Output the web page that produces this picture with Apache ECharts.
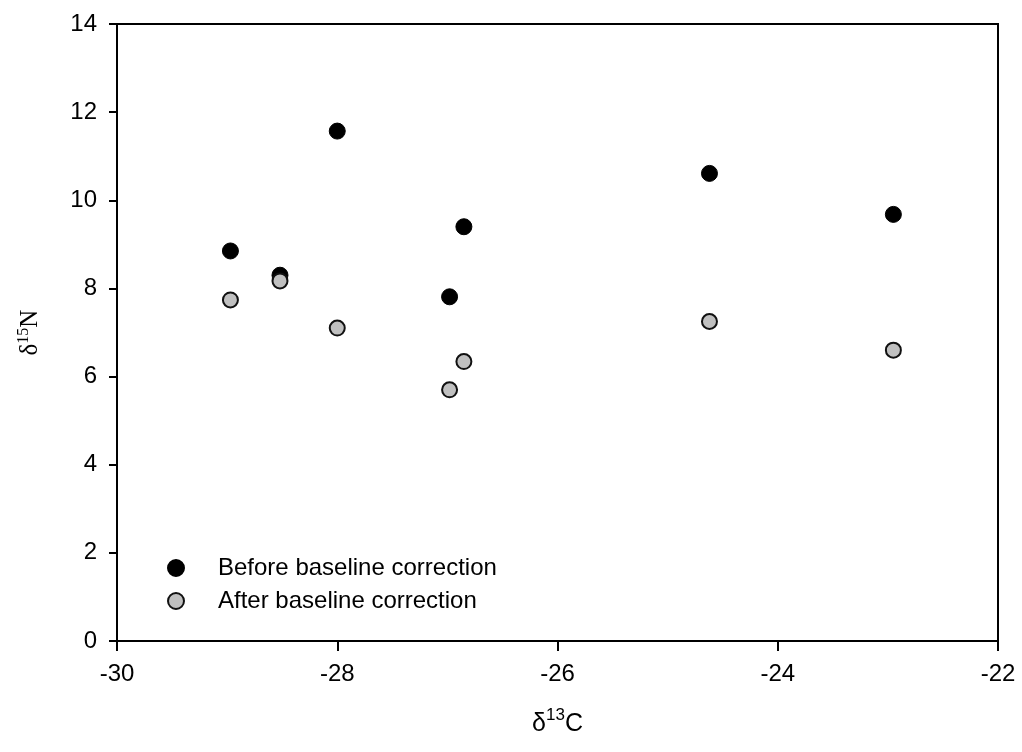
<!DOCTYPE html>
<html>
<head>
<meta charset="utf-8">
<script src="https://cdn.jsdelivr.net/npm/echarts@6/dist/echarts.min.js"></script>
<style>html,body{margin:0;padding:0;background:#fff;}#c{width:1022px;height:752px;}</style>
</head>
<body>
<div id="c"></div>
<script>
const xTicks = [-30, -28, -26, -24, -22];
const yTicks = [0, 2, 4, 6, 8, 10, 12, 14];
const beforeX = [-28.97, -28.52, -28.0, -26.98, -26.85, -24.62, -22.95];
const beforeY = [8.85, 8.30, 11.57, 7.81, 9.40, 10.61, 9.68];
const afterX = [-28.97, -28.52, -28.0, -26.98, -26.85, -24.62, -22.95];
const afterY = [7.74, 8.17, 7.10, 5.70, 6.34, 7.25, 6.60];
const seriesNames = ['Before baseline correction', 'After baseline correction'];

const chart = echarts.init(document.getElementById('c'), null, {renderer: 'canvas'});
const font = 'Liberation Sans, Arial, sans-serif';
const serif = 'Liberation Serif, Times New Roman, serif';
chart.setOption({
  animation: false,
  backgroundColor: '#fff',
  grid: {left: 117, right: 24, top: 24, bottom: 111, containLabel: false, outerBoundsMode: 'none',
    show: true, borderColor: '#000', borderWidth: 2, backgroundColor: 'transparent'},
  xAxis: {
    type: 'value', min: xTicks[0], max: xTicks[xTicks.length - 1], interval: 2,
    axisLine: {show: true, onZero: false, lineStyle: {color: '#000', width: 2}},
    axisTick: {show: true, inside: false, length: 10, lineStyle: {color: '#000', width: 2}},
    axisLabel: {color: '#000', fontSize: 24, fontFamily: font, margin: 21},
    splitLine: {show: false},
    name: '{d|δ}{s|13}{n|C}', nameLocation: 'middle', nameGap: 66,
    nameTextStyle: {rich: {
      d: {fontSize: 25, fontFamily: font, color: '#000', verticalAlign: 'bottom'},
      s: {fontSize: 17, fontFamily: font, color: '#000', verticalAlign: 'top', padding: [0, 0, 13, 0]},
      n: {fontSize: 25, fontFamily: font, color: '#000', verticalAlign: 'bottom'}
    }}
  },
  yAxis: {
    type: 'value', min: yTicks[0], max: yTicks[yTicks.length - 1], interval: 2,
    axisLine: {show: true, onZero: false, lineStyle: {color: '#000', width: 2}},
    axisTick: {show: true, inside: false, length: 8, lineStyle: {color: '#000', width: 2}},
    axisLabel: {color: '#000', fontSize: 24, fontFamily: font, margin: 20},
    splitLine: {show: false},
    name: '{d|δ}{s|15}{n|N}', nameLocation: 'middle', nameGap: 73, nameRotate: 90,
    nameTextStyle: {rich: {
      d: {fontSize: 25, fontFamily: serif, color: '#000'},
      s: {fontSize: 16, fontFamily: serif, color: '#000', padding: [0, 0, 12, 0]},
      n: {fontSize: 25, fontFamily: serif, color: '#000'}
    }}
  },
  legend: {
    orient: 'vertical', left: 162, top: 551, itemWidth: 16, itemHeight: 16, itemGap: 9,
    icon: 'circle',
    data: seriesNames,
    textStyle: {color: '#000', fontSize: 24, fontFamily: font, padding: [0, 0, 0, 29]}
  },
  series: [
    {name: seriesNames[0], type: 'scatter', symbol: 'circle', symbolSize: 16,
     itemStyle: {color: '#000', borderColor: '#000', borderWidth: 1, opacity: 1},
     data: beforeX.map((x, i) => [x, beforeY[i]])},
    {name: seriesNames[1], type: 'scatter', symbol: 'circle', symbolSize: 15,
     itemStyle: {color: '#c0c0c0', borderColor: '#111', borderWidth: 2, opacity: 1},
     data: afterX.map((x, i) => [x, afterY[i]])}
  ]
});
</script>
</body>
</html>
